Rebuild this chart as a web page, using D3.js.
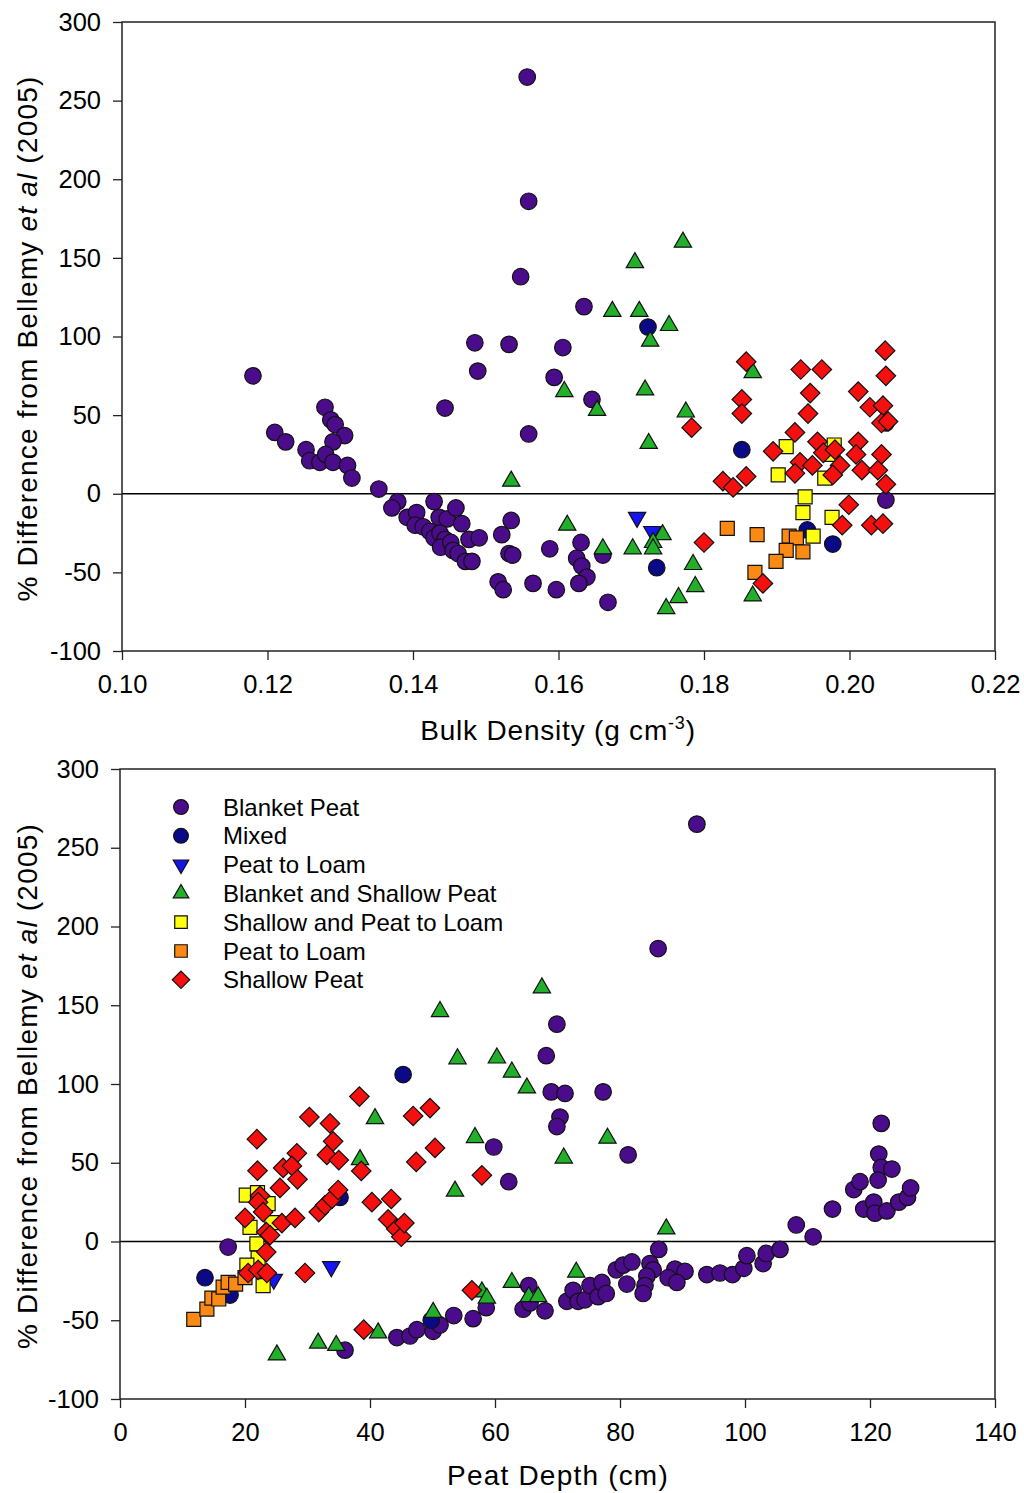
<!DOCTYPE html>
<html>
<head>
<meta charset="utf-8">
<script src="https://d3js.org/d3.v7.min.js"></script>
<style>
  body { margin: 0; background: #fff; }
  text { font-family: "Liberation Sans", Arial, sans-serif; fill: #000; }
</style>
</head>
<body>
<svg id="chart" width="1024" height="1493"></svg>
<script>
// ---- data: top panel (bulk density, % difference) ----
var blanketPeatBD = [[0.118,75],[0.121,39],[0.1225,33],[0.1253,28],[0.1258,21],[0.1272,20],[0.1279,55],[0.1287,47],[0.1293,44],
  [0.1306,37],[0.129,33],[0.128,25],[0.129,20],[0.131,18],[0.1316,10],[0.1353,3],[0.1379,-5],[0.1371,-9],[0.1392,-15],
  [0.1405,-12],[0.1403,-20],[0.1414,-21],[0.1429,-5],[0.1436,-15],[0.1447,-16],[0.1459,-9],[0.1467,-19],[0.1423,-24],
  [0.1429,-28],[0.1437,-25],[0.1444,-29],[0.1438,-34],[0.1452,-31],[0.1455,-36],[0.1462,-38],[0.1477,-29],[0.1491,-28],
  [0.1472,-43],[0.1481,-43],[0.1444,54.5],[0.1489,78],[0.1485,96],[0.1532,95],[0.1606,93],[0.1594,74],[0.1646,60],
  [0.1559,38],[0.1635,119],[0.1557,265],[0.1559,186],[0.1548,138],[0.1535,-17],[0.1522,-26],[0.1532,-38],[0.1537,-39],
  [0.1517,-56],[0.1524,-61],[0.1565,-57],[0.1588,-35],[0.1597,-61],[0.1631,-31],[0.1625,-41],[0.1632,-46],[0.1639,-53],
  [0.1628,-57],[0.1661,-39],[0.1668,-69],[0.205,-4],[0.205,45]];
var mixedBD = [[0.1723,106],[0.1852,28],[0.1735,-47],[0.1942,-23],[0.1977,-32]];
var peatLoamTriBD = [[0.1708,-15],[0.1729,-24]];
var blanketShallowBD = [[0.1771,160],[0.1705,147],[0.1674,116],[0.1711,116],[0.1752,107],[0.1726,97],[0.1608,65],
  [0.1719,66],[0.1653,53],[0.1775,52],[0.1724,32],[0.1867,77],[0.1535,8],[0.1612,-20],[0.1661,-35],[0.1702,-35],
  [0.1743,-26],[0.173,-31],[0.173,-35],[0.1785,-45],[0.1788,-59],[0.1765,-66],[0.1748,-73],[0.1867,-65]];
var shallowPeatLoamBD = [[0.1913,30],[0.1902,12],[0.1979,31],[0.1966,10],[0.1939,-2],[0.1936,-12],[0.1976,-15],
  [0.195,-27],[0.1975,25]];
var peatLoamSqBD = [[0.1832,-22],[0.1873,-26],[0.1917,-27],[0.1927,-28],[0.1913,-36],[0.1936,-37],[0.1899,-43],[0.187,-50]];
var shallowPeatBD = [[0.1858,84],[0.1852,60],[0.1852,51],[0.1783,42],[0.1933,79],[0.1962,79],[0.1946,64],[0.1943,51],
  [0.2012,65],[0.2028,55],[0.2049,91],[0.205,75],[0.2046,56],[0.2044,45],[0.2053,46],[0.1925,39],[0.1895,27],
  [0.1956,33],[0.1964,26],[0.198,28],[0.1987,18],[0.1977,12],[0.1932,20],[0.1949,18],[0.1925,13],[0.2012,33],
  [0.2009,25],[0.2017,15],[0.2039,15],[0.2044,25],[0.205,6],[0.1826,8],[0.184,4],[0.1858,11],[0.1999,-7],
  [0.199,-20],[0.203,-20],[0.2046,-19],[0.18,-31],[0.1881,-57]];

// ---- data: bottom panel (peat depth cm, % difference) ----
var blanketPeatDepth = [[92.3,265],[86.1,186],[69.9,138],[68.2,118],[69,95],[71.2,94],[77.3,95],[70.4,79],[69.9,73],
  [59.8,60],[81.3,55],[62.2,38],[17.3,-3.5],[36,-69],[44.3,-61],[46.4,-60],[47.5,-56],[50.1,-57],[51.2,-53],[53.4,-47],
  [56.5,-49],[58.6,-42],[65.4,-28],[64.5,-43],[65.6,-39],[68,-44],[71.5,-38],[72.5,-31],[73.3,-38],[74.4,-37],
  [75.2,-28],[76.5,-35],[77.1,-26],[77.8,-33],[79.4,-18],[80.5,-15],[81.9,-13],[81.1,-27],[86.2,-5],[84.8,-14],
  [85.3,-18],[84.3,-22],[84,-28],[83.7,-33],[88.8,-17.5],[90.4,-19],[87.7,-23],[89.1,-26],[93.9,-21],[96,-20],
  [98,-21],[99.8,-17],[100.3,-9],[102.9,-14],[103.4,-7.6],[105.6,-5],[108.2,10.5],[110.9,3],[114,20.6],[117.4,33],
  [118.4,38],[119,20.6],[120.6,25],[120.8,18],[122.7,19.4],[121.8,75],[121.4,55.5],[121.8,47],[123.5,46],[121.3,39],
  [124.6,25],[126,28],[126.5,34]];
var mixedDepth = [[45.3,106],[13.6,-23],[17.6,-34],[35.2,28],[49.8,-50]];
var peatLoamTriDepth = [[33.8,-16],[24.6,-24]];
var blanketShallowDepth = [[67.5,161],[51.2,146],[54,116],[60.3,116.5],[62.7,107.6],[65.1,97.5],[40.8,78],[56.8,66],
  [78,65.6],[38.4,52],[71,53],[53.6,32],[87.4,8],[73,-19.5],[62.7,-26],[57.9,-32],[58.7,-36],[65.4,-35],[66.9,-35],
  [50.1,-45],[41.3,-58],[31.7,-64.5],[34.6,-66],[25.1,-72]];
var shallowPeatLoamDepth = [[20.2,29.5],[22,31],[23.7,24],[20.8,9],[24.3,12],[21.9,-1.5],[22.1,-10.5],[20.3,-15],[22.9,-28]];
var peatLoamSqDepth = [[11.8,-49.5],[13.9,-43],[14.7,-36],[15.8,-36.5],[16.5,-29],[17.3,-26],[18.5,-27],[20,-23]];
var shallowPeatDepth = [[38.3,92],[30.3,79],[33.6,75],[34.1,63.6],[33.1,55],[35,51.7],[21.9,65],[28.3,56],[22,45],
  [26.1,46.7],[27.5,48],[28.4,39.5],[25.6,34],[22.4,29],[22.1,25],[22.9,18.7],[20,15],[25.9,11.7],[28,15],[23.4,6],
  [24,4],[23.4,-6.7],[20.5,-20],[22.1,-18],[23.5,-20],[29.6,-20],[31.8,18.7],[32.8,23],[33.9,27],[34.9,32.7],
  [38.6,44.8],[40.3,25],[43.4,27],[42.9,14],[44.2,8],[45,3],[45.5,11.7],[46.9,79.7],[49.6,84.7],[47.4,50.5],
  [50.4,59.4],[39,-56],[57.9,42],[56.3,-31]];

var seriesNames = ["Blanket Peat", "Mixed", "Peat to Loam", "Blanket and Shallow Peat",
                   "Shallow and Peat to Loam", "Peat to Loam", "Shallow Peat"];
var yTicks = [-100, -50, 0, 50, 100, 150, 200, 250, 300];
var bdTicks = [0.10, 0.12, 0.14, 0.16, 0.18, 0.20, 0.22];
var depthTicks = [0, 20, 40, 60, 80, 100, 120, 140];

// marker style per series (same order as seriesNames)
var markers = [
  { shape: d3.symbolCircle,   size: 215, rotate: 0,   fill: "#4b0c8c" },
  { shape: d3.symbolCircle,   size: 215, rotate: 0,   fill: "#0a0a86" },
  { shape: d3.symbolTriangle, size: 130, rotate: 180, fill: "#1414f5" },
  { shape: d3.symbolTriangle, size: 130, rotate: 0,   fill: "#22b02a" },
  { shape: d3.symbolSquare,   size: 196, rotate: 0,   fill: "#ffff10" },
  { shape: d3.symbolSquare,   size: 196, rotate: 0,   fill: "#fb8a14" },
  { shape: d3.symbolSquare,   size: 190, rotate: 45,  fill: "#f51010" }
];

// plain hyphen for negatives, like the original
var plain = function(fmt) {
    return function(d) { return fmt(d).replace("\u2212", "-"); };
};

var svg = d3.select("#chart");

var panel = function(cfg) {
    var x = d3.scaleLinear().domain(cfg.xDomain).range([cfg.left, cfg.right]);
    var y = d3.scaleLinear().domain([-100, 300]).range([cfg.bottom, cfg.top]);
    var g = svg.append("g");

    // zero line
    g.append("line")
        .attr("x1", cfg.left).attr("x2", cfg.right)
        .attr("y1", y(0)).attr("y2", y(0))
        .attr("stroke", "#000").attr("stroke-width", 1.5);

    // axes
    var yAxis = g.append("g")
        .attr("transform", "translate(" + cfg.left + ",0)")
        .call(d3.axisLeft(y).tickValues(yTicks).tickFormat(plain(d3.format("d"))).tickSize(9).tickPadding(12));
    var xAxis = g.append("g")
        .attr("transform", "translate(0," + cfg.bottom + ")")
        .call(d3.axisBottom(x).tickValues(cfg.xTicks).tickFormat(cfg.xFormat).tickSize(9).tickPadding(15));
    [yAxis, xAxis].forEach(function(a) {
        a.select(".domain").remove();
        a.selectAll("line").attr("stroke", "#222").attr("stroke-width", 1.3);
        a.selectAll("text").style("font-size", "25.5px")
            .style("font-family", "'Liberation Sans', Arial, sans-serif").attr("fill", "#111");
    });

    // frame
    g.append("rect")
        .attr("x", cfg.left).attr("y", cfg.top)
        .attr("width", cfg.right - cfg.left).attr("height", cfg.bottom - cfg.top)
        .attr("fill", "none").attr("stroke", "#222").attr("stroke-width", 1.5);

    // points
    cfg.series.forEach(function(data, i) {
        var m = markers[i];
        g.append("g").selectAll("path")
            .data(data)
          .enter()
            .append("path")
            .attr("d", d3.symbol().type(m.shape).size(m.size))
            .attr("transform", function(d) {
                return "translate(" + x(d[0]) + "," + y(d[1]) + ") rotate(" + m.rotate + ")";
            })
            .attr("fill", m.fill)
            .attr("stroke", "#111")
            .attr("stroke-width", 1.2);
    });

    // y title
    var yt = g.append("text")
        .attr("transform", "translate(37," + ((cfg.top + cfg.bottom) / 2 + 2) + ") rotate(-90)")
        .attr("text-anchor", "middle")
        .style("font-size", "28px")
        .style("letter-spacing", "1.2px");
    yt.append("tspan").text("% Difference from Bellemy ");
    yt.append("tspan").style("font-style", "italic").text("et al");
    yt.append("tspan").text(" (2005)");

    return { x: x, y: y, g: g };
};

panel({
    left: 122, right: 995, top: 22, bottom: 651,
    xDomain: [0.10, 0.22], xTicks: bdTicks, xFormat: d3.format(".2f"),
    series: [blanketPeatBD, mixedBD, peatLoamTriBD, blanketShallowBD, shallowPeatLoamBD, peatLoamSqBD, shallowPeatBD]
});

panel({
    left: 120, right: 995, top: 769, bottom: 1399,
    xDomain: [0, 140], xTicks: depthTicks, xFormat: d3.format("d"),
    series: [blanketPeatDepth, mixedDepth, peatLoamTriDepth, blanketShallowDepth, shallowPeatLoamDepth, peatLoamSqDepth, shallowPeatDepth]
});

// x titles
var t1 = svg.append("text")
    .attr("x", 558).attr("y", 740)
    .attr("text-anchor", "middle")
    .style("font-size", "28px")
    .style("letter-spacing", "0.8px");
t1.append("tspan").text("Bulk Density (g cm");
t1.append("tspan").attr("dy", -11).style("font-size", "18px").text("-3");
t1.append("tspan").attr("dy", 11).text(")");

svg.append("text")
    .attr("x", 558).attr("y", 1485)
    .attr("text-anchor", "middle")
    .style("font-size", "28px")
    .style("letter-spacing", "1.2px")
    .text("Peat Depth (cm)");

// legend
var legend = svg.append("g");
seriesNames.forEach(function(name, i) {
    var m = markers[i];
    var ly = 807 + i * 28.8;
    legend.append("path")
        .attr("d", d3.symbol().type(m.shape).size(m.size * 0.8))
        .attr("transform", "translate(181," + ly + ") rotate(" + m.rotate + ")")
        .attr("fill", m.fill).attr("stroke", "#111").attr("stroke-width", 1.2);
    legend.append("text")
        .attr("x", 223).attr("y", ly).attr("dy", "0.36em")
        .style("font-size", "24px")
        .text(name);
});
</script>
</body>
</html>
